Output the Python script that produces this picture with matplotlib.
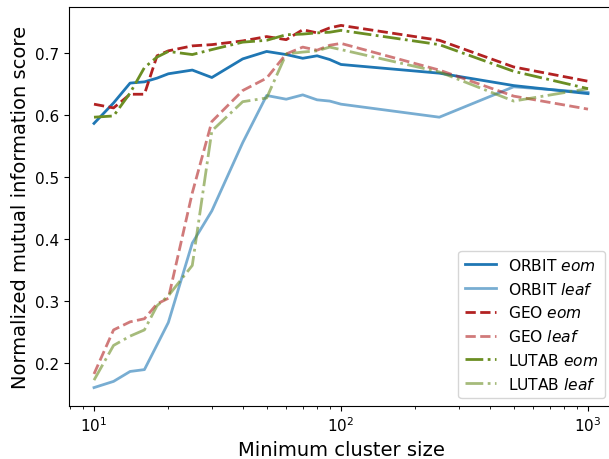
import numpy as np
import matplotlib
matplotlib.use('Agg')
import matplotlib.pyplot as plt

# minimum cluster sizes tested
min_cluster_size = [10, 12, 14, 16, 18, 20, 25, 30, 40, 50, 60, 70, 80, 90, 100, 250, 500, 1000]

# normalized mutual information per method / cluster selection
orbit_eom = [0.587, 0.620, 0.652, 0.654, 0.660, 0.667, 0.673, 0.661, 0.691, 0.703,
             0.698, 0.692, 0.696, 0.690, 0.682, 0.668, 0.648, 0.635]
orbit_leaf = [0.161, 0.171, 0.187, 0.190, 0.230, 0.266, 0.394, 0.446, 0.556, 0.632,
              0.626, 0.633, 0.625, 0.623, 0.618, 0.597, 0.646, 0.637]
geo_eom = [0.618, 0.612, 0.634, 0.634, 0.696, 0.704, 0.712, 0.714, 0.720, 0.727,
           0.722, 0.738, 0.733, 0.741, 0.745, 0.721, 0.678, 0.655]
geo_leaf = [0.183, 0.254, 0.267, 0.272, 0.296, 0.305, 0.475, 0.590, 0.640, 0.660,
            0.699, 0.710, 0.705, 0.713, 0.716, 0.673, 0.631, 0.610]
lutab_eom = [0.597, 0.599, 0.636, 0.677, 0.694, 0.703, 0.698, 0.706, 0.718, 0.721,
             0.730, 0.731, 0.733, 0.734, 0.737, 0.714, 0.671, 0.643]
lutab_leaf = [0.173, 0.229, 0.244, 0.254, 0.293, 0.309, 0.358, 0.575, 0.622, 0.628,
              0.699, 0.702, 0.704, 0.710, 0.706, 0.670, 0.623, 0.643]

fig = plt.figure(figsize=(6.09, 4.6), dpi=100)
ax = fig.add_axes([69.3 / 609, 53.3 / 460, 543.4 / 609, 398.4 / 460])

lw = 2
ax.plot(min_cluster_size, orbit_eom, color='#1f77b4', ls='-', lw=lw, label=r'ORBIT $\mathit{eom}$')
ax.plot(min_cluster_size, orbit_leaf, color='#1f77b4', ls='-', lw=lw, alpha=0.6, label=r'ORBIT $\mathit{leaf}$')
ax.plot(min_cluster_size, geo_eom, color='#b22222', ls='--', lw=lw, label=r'GEO $\mathit{eom}$')
ax.plot(min_cluster_size, geo_leaf, color='#b22222', ls='--', lw=lw, alpha=0.6, label=r'GEO $\mathit{leaf}$')
ax.plot(min_cluster_size, lutab_eom, color='#6b8e23', ls='-.', lw=lw, label=r'LUTAB $\mathit{eom}$')
ax.plot(min_cluster_size, lutab_leaf, color='#6b8e23', ls='-.', lw=lw, alpha=0.6, label=r'LUTAB $\mathit{leaf}$')

ax.set_xscale('log')
ax.set_xlabel('Minimum cluster size', fontsize=14)
ax.set_ylabel('Normalized mutual information score', fontsize=14)
ax.tick_params(labelsize=11)
ax.legend(loc='lower right', fontsize=11.2)

fig.savefig('out.png', dpi=100)
